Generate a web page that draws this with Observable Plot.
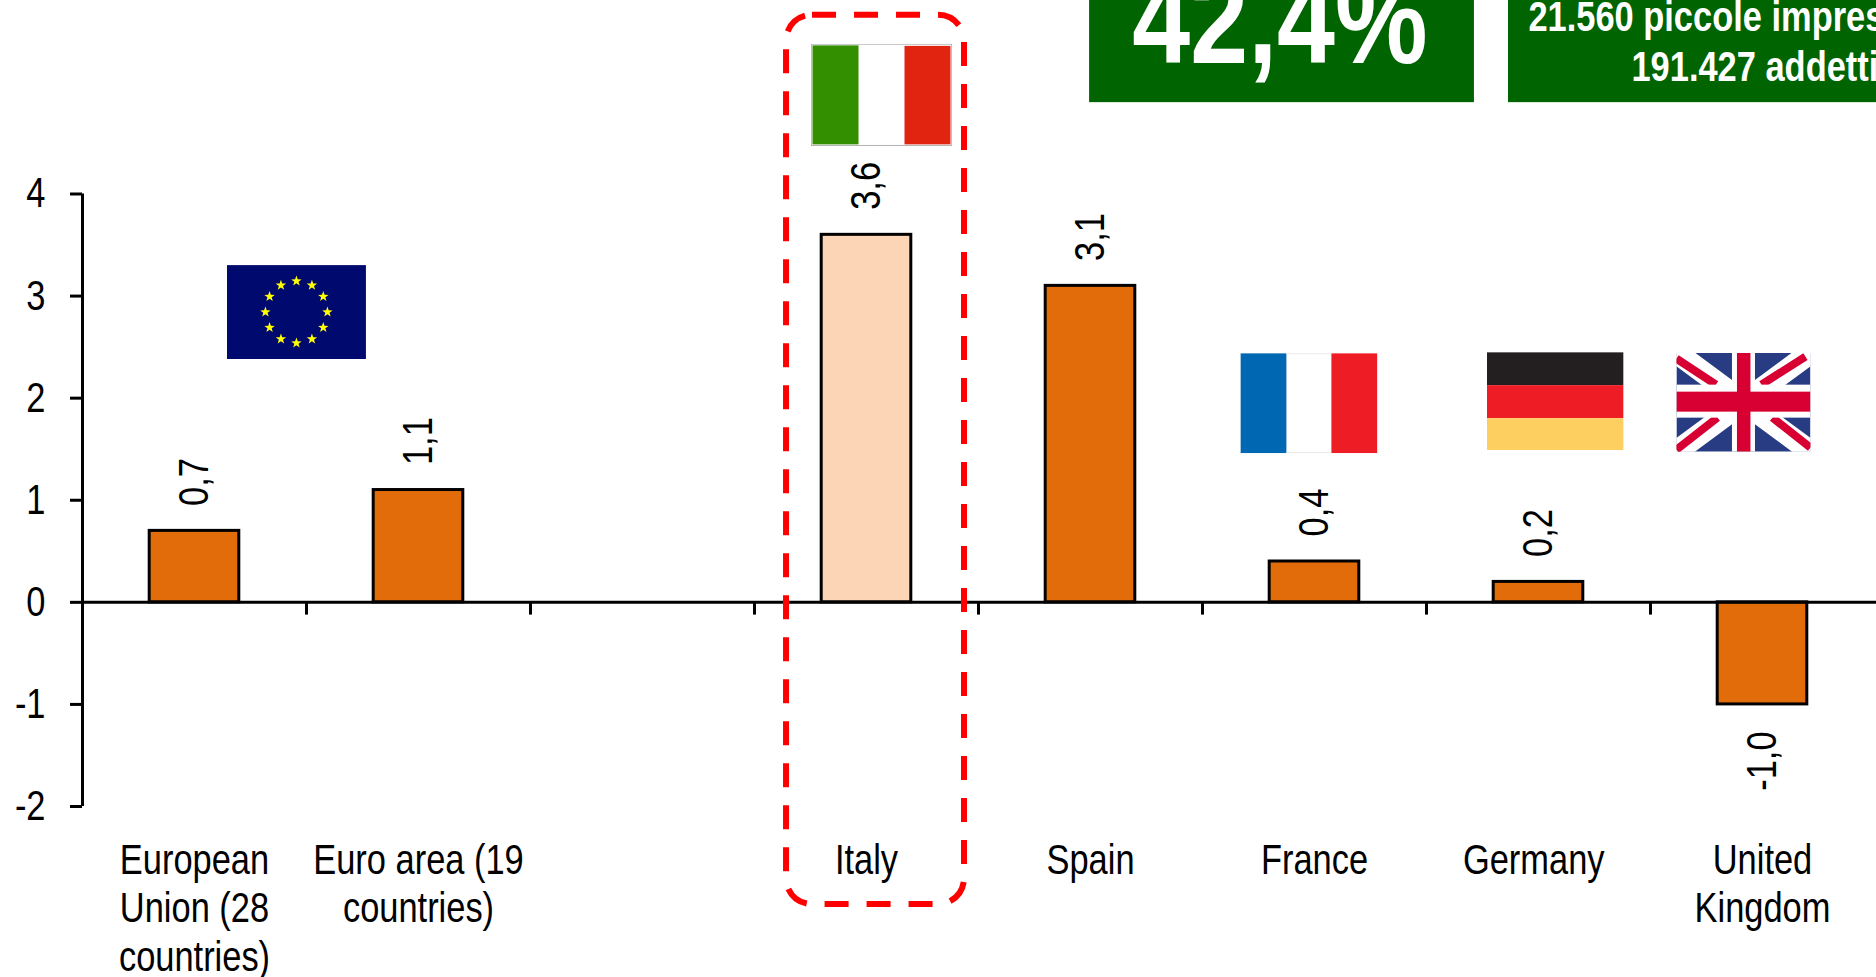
<!DOCTYPE html>
<html><head><meta charset="utf-8">
<script src="https://cdn.jsdelivr.net/npm/d3@7"></script>
<script src="https://cdn.jsdelivr.net/npm/@observablehq/plot@0.6"></script>
<style>html,body{margin:0;padding:0;background:#fff;overflow:hidden}svg{display:block;max-width:none!important}</style>
</head><body><div id="chart"></div>
<script>
const FONT = "'Liberation Sans',Arial,sans-serif";
// band index of each category along x (index 2 is an empty slot)
const slots = [0, 1, 3, 4, 5, 6, 7];
const categories = ["European\nUnion (28\ncountries)", "Euro area (19\ncountries)", "Italy", "Spain", "France", "Germany\u00A0", "United\nKingdom"];
const values = [0.7, 1.1, 3.6, 3.1, 0.4, 0.2, -1.0];
const barColors = ["#E36C0A", "#E36C0A", "#FBD5B5", "#E36C0A", "#E36C0A", "#E36C0A", "#E36C0A"];
const yTicks = [-2, -1, 0, 1, 2, 3, 4];
const xTicks = [1, 2, 3, 4, 5, 6, 7];

const rows = slots.map((s, i) => ({s, label: categories[i], value: values[i], color: barColors[i]}));
const fmt = d => d.toFixed(1).replace(".", ",");

function svgUri(w, h, body) {
  return "data:image/svg+xml," + encodeURIComponent(`<svg xmlns="http://www.w3.org/2000/svg" viewBox="0 0 ${w} ${h}" preserveAspectRatio="none">${body}</svg>`);
}
function star(cx, cy, r) {
  let p = [];
  for (let k = 0; k < 10; k++) {
    const a = -Math.PI / 2 + k * Math.PI / 5, q = k % 2 ? r * 0.4 : r;
    p.push((cx + q * Math.cos(a)).toFixed(2) + "," + (cy + q * Math.sin(a)).toFixed(2));
  }
  return `<polygon points="${p.join(" ")}" fill="#FFFF00"/>`;
}
let euStars = "";
for (let k = 0; k < 12; k++) {
  const a = k * Math.PI / 6;
  euStars += star(69.5 + 31 * Math.sin(a), 47 - 31 * Math.cos(a), 5.5);
}
const flagEU = svgUri(139, 94, `<rect width="139" height="94" fill="#000A6E"/>${euStars}`);
const flagIT = svgUri(141, 102, `<rect width="141" height="102" fill="#fff" stroke="#aaa" stroke-width="1.5"/><rect x="1.5" y="1.5" width="46" height="99" fill="#338E00"/><rect x="93.5" y="2" width="46" height="98.5" fill="#E12410"/>`);
const flagFR = svgUri(137, 100, `<rect width="137" height="100" fill="#fff"/><rect width="46" height="100" fill="#0067B2"/><rect x="91" width="46" height="100" fill="#EE1C25"/><path d="M46 .5H91M46 99.5H91" stroke="#e6e6e6"/>`);
const flagDE = svgUri(137, 98, `<rect width="137" height="33" fill="#231F20"/><rect y="33" width="137" height="33" fill="#EE1C25"/><rect y="66" width="137" height="32" fill="#FDCE60"/>`);
const flagUK = svgUri(134, 99, `<rect width="134" height="99" fill="#283C83"/>
<path d="M0 0L134 99M134 0L0 99" stroke="#fff" stroke-width="22"/>
<path d="M0 6L39.5 32M129 4L85 32M0 97L41 65M96 65L134 95" stroke="#D80032" stroke-width="8"/>
<rect x="55.5" width="23" height="99" fill="#fff"/><rect y="32" width="134" height="33" fill="#fff"/>
<rect x="60.5" width="13.5" height="99" fill="#D80032"/><rect y="39" width="134" height="20" fill="#D80032"/>`);

const flags = [
  {x: 0.955, y: 2.843, w: 139, h: 94, src: flagEU},
  {x: 3.567, y: 4.971, w: 141, h: 102, src: flagIT},
  {x: 5.475, y: 1.951, w: 137, h: 100, src: flagFR},
  {x: 6.574, y: 1.971, w: 137, h: 98, src: flagDE},
  {x: 7.415, y: 1.961, w: 134, h: 99, src: flagUK}
];
const boxes = [
  {x1: 4.496, x2: 6.214, y1: 4.895, y2: 6},
  {x1: 6.366, x2: 8.02, y1: 4.895, y2: 6}
];
const highlight = [{x1: 3.143, x2: 3.9375, y1: -2.961, y2: 5.752}];
const calloutBig = [{x: 5.346, y: 5.284, t: "42,4%"}];
const calloutSmall = [
  {x: 6.455, y: 5.598, t: "21.560 piccole imprese con"},
  {x: 6.915, y: 5.108, t: "191.427 addetti"}
];
const LABEL_Y = -2.32;

const plot = Plot.plot({
  width: 1876, height: 977,
  marginLeft: 82, marginRight: 0, marginTop: 193.5, marginBottom: 171,
  x: {domain: [0, 8], range: [82, 1874], axis: null},
  y: {domain: [-2, 4], range: [806, 193.5], axis: null},
  color: {type: "identity"},
  style: {fontFamily: FONT, background: "#fff", color: "#000", overflow: "visible"},
  marks: [
    Plot.axisY({ticks: yTicks, tickFormat: d => String(d), tickSize: 12, tickPadding: 25, fontSize: 42, strokeWidth: 3, label: null, anchor: "left", fill: "#000"}),
    Plot.ruleX([0], {y1: -2, y2: 4, strokeWidth: 3, stroke: "#000"}),
    Plot.rectY(rows, {x1: d => d.s + 0.3, x2: d => d.s + 0.7, y1: 0, y2: "value", fill: "color", stroke: "#000", strokeWidth: 3}),
    Plot.ruleY([0], {strokeWidth: 3, stroke: "#000"}),
    Plot.ruleX(xTicks, {x: d => d, y1: 0, y2: -0.125, strokeWidth: 3, stroke: "#000"}),
    Plot.text(rows.filter(d => d.value >= 0), {x: d => d.s + 0.5, y: "value", text: d => fmt(d.value), rotate: -90, textAnchor: "start", lineAnchor: "middle", dy: -25, fontSize: 42, fill: "#000"}),
    Plot.text(rows.filter(d => d.value < 0), {x: d => d.s + 0.5, y: "value", text: d => fmt(d.value), rotate: -90, textAnchor: "end", lineAnchor: "middle", dy: 27, fontSize: 42, fill: "#000"}),
    Plot.text(rows, {x: d => d.s + 0.5, y: LABEL_Y, text: "label", textAnchor: "middle", lineAnchor: "top", lineHeight: 1.155, fontSize: 42, fill: "#000"}),
    Plot.image(flags, {x: "x", y: "y", width: "w", height: "h", src: "src", preserveAspectRatio: "none"}),
    Plot.rect(highlight, {x1: "x1", x2: "x2", y1: "y1", y2: "y2", fill: "none", stroke: "#FF0000", strokeWidth: 6, strokeDasharray: "24,18", rx: 26}),
    Plot.rect(boxes, {x1: "x1", x2: "x2", y1: "y1", y2: "y2", fill: "#006400"}),
    Plot.text(calloutBig, {x: "x", y: "y", text: "t", textAnchor: "middle", lineAnchor: "bottom", fontSize: 127, fontWeight: "bold", fill: "#fff"}),
    Plot.text(calloutSmall, {x: "x", y: "y", text: "t", textAnchor: "start", lineAnchor: "bottom", fontSize: 42, fontWeight: "bold", fill: "#fff"})
  ]
});
// Arial Narrow is not installed: squeeze each text along its reading direction
d3.select(plot).selectAll("text").each(function () {
  const t = this.getAttribute("transform") || "";
  this.setAttribute("transform", (t + " scale(0.82,1)").trim());
});
document.getElementById("chart").appendChild(plot);
</script></body></html>
